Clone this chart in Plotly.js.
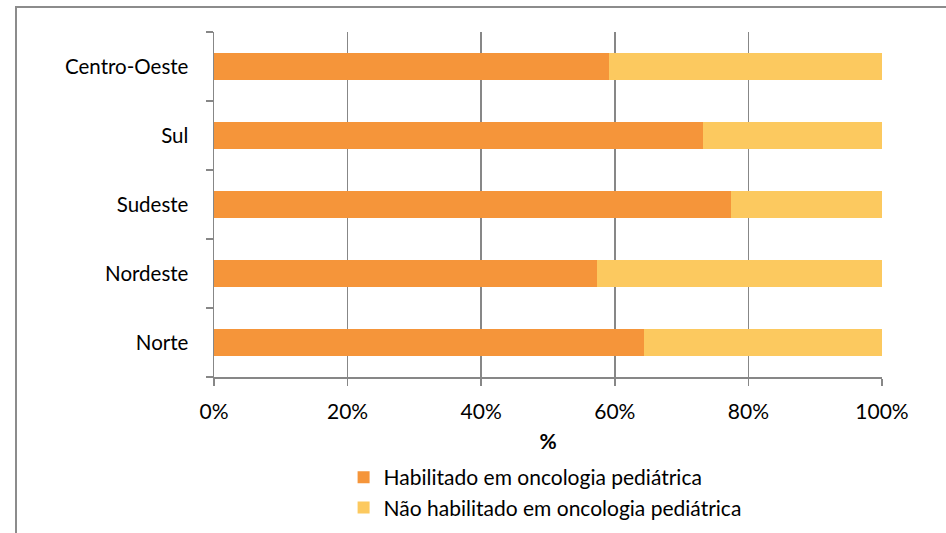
<!DOCTYPE html>
<html>
<head>
<meta charset="utf-8">
<script src="https://cdn.plot.ly/plotly-3.0.1.min.js"></script>
<style>
  html, body { margin:0; padding:0; background:#fff; overflow:hidden; }
  #chart { width:946px; height:533px; }
  #frame { position:absolute; left:15px; top:6px; width:1000px; height:1000px;
           border-left:2px solid #8c8c8c; border-top:2px solid #8c8c8c; pointer-events:none; }
</style>
</head>
<body>
<div id="chart"></div>
<div id="frame"></div>
<script>
const regions = ['Norte', 'Nordeste', 'Sudeste', 'Sul', 'Centro-Oeste'];
const habilitado = [0.644, 0.573, 0.774, 0.732, 0.591];
const naoHabilitado = habilitado.map(v => 1 - v);
const seriesNames = ['Habilitado em oncologia pediátrica', 'Não habilitado em oncologia pediátrica'];
const xTickVals = [0, 0.2, 0.4, 0.6, 0.8, 1.0];
const xTickText = ['0%', '20%', '40%', '60%', '80%', '100%'];

const fam = 'Lato, "Open Sans", sans-serif';
const font = { family: fam, size: 21, color: '#000' };
const yfont = { family: fam, size: 20.5, color: '#000' };
const grid = '#878787';

const traces = [
  { type: 'bar', orientation: 'h', y: regions, x: habilitado, name: seriesNames[0],
    marker: { color: '#F5953A' }, width: 0.4, hoverinfo: 'skip' },
  { type: 'bar', orientation: 'h', y: regions, x: naoHabilitado, name: seriesNames[1],
    marker: { color: '#FCC95F' }, width: 0.4, hoverinfo: 'skip' }
];

const layout = {
  width: 946, height: 533,
  barmode: 'stack',
  paper_bgcolor: 'rgba(0,0,0,0)',
  plot_bgcolor: 'rgba(0,0,0,0)',
  margin: { l: 214, r: 64, t: 32, b: 156, pad: 0, autoexpand: false },
  font: font,
  showlegend: true,
  legend: {
    orientation: 'v', x: 0.194, xanchor: 'left', y: -0.232, yanchor: 'top',
    font: font, traceorder: 'normal', itemwidth: 30, tracegroupgap: 0,
    bgcolor: 'rgba(0,0,0,0)'
  },
  xaxis: {
    range: [0, 1], tickvals: xTickVals, ticktext: xTickText, automargin: false,
    showgrid: true, gridcolor: grid, gridwidth: 1.5,
    showline: true, linecolor: grid, linewidth: 1.5,
    ticks: 'outside', ticklen: 7, tickcolor: grid, tickwidth: 1.5,
    zeroline: false, fixedrange: true,
    tickfont: font, ticklabelstandoff: 8,
    title: { text: '<b>%</b>', font: font, standoff: 12 }
  },
  yaxis: {
    type: 'category', categoryorder: 'array', categoryarray: regions,
    range: [-0.5, 4.5], automargin: false,
    showgrid: false, showline: true, linecolor: grid, linewidth: 1.5,
    ticks: 'outside', tickson: 'boundaries', ticklen: 7, tickcolor: grid, tickwidth: 1.5,
    tickfont: yfont, ticklabelstandoff: 20, fixedrange: true
  }
};

Plotly.newPlot('chart', traces, layout, { displayModeBar: false, staticPlot: true });
</script>
</body>
</html>
